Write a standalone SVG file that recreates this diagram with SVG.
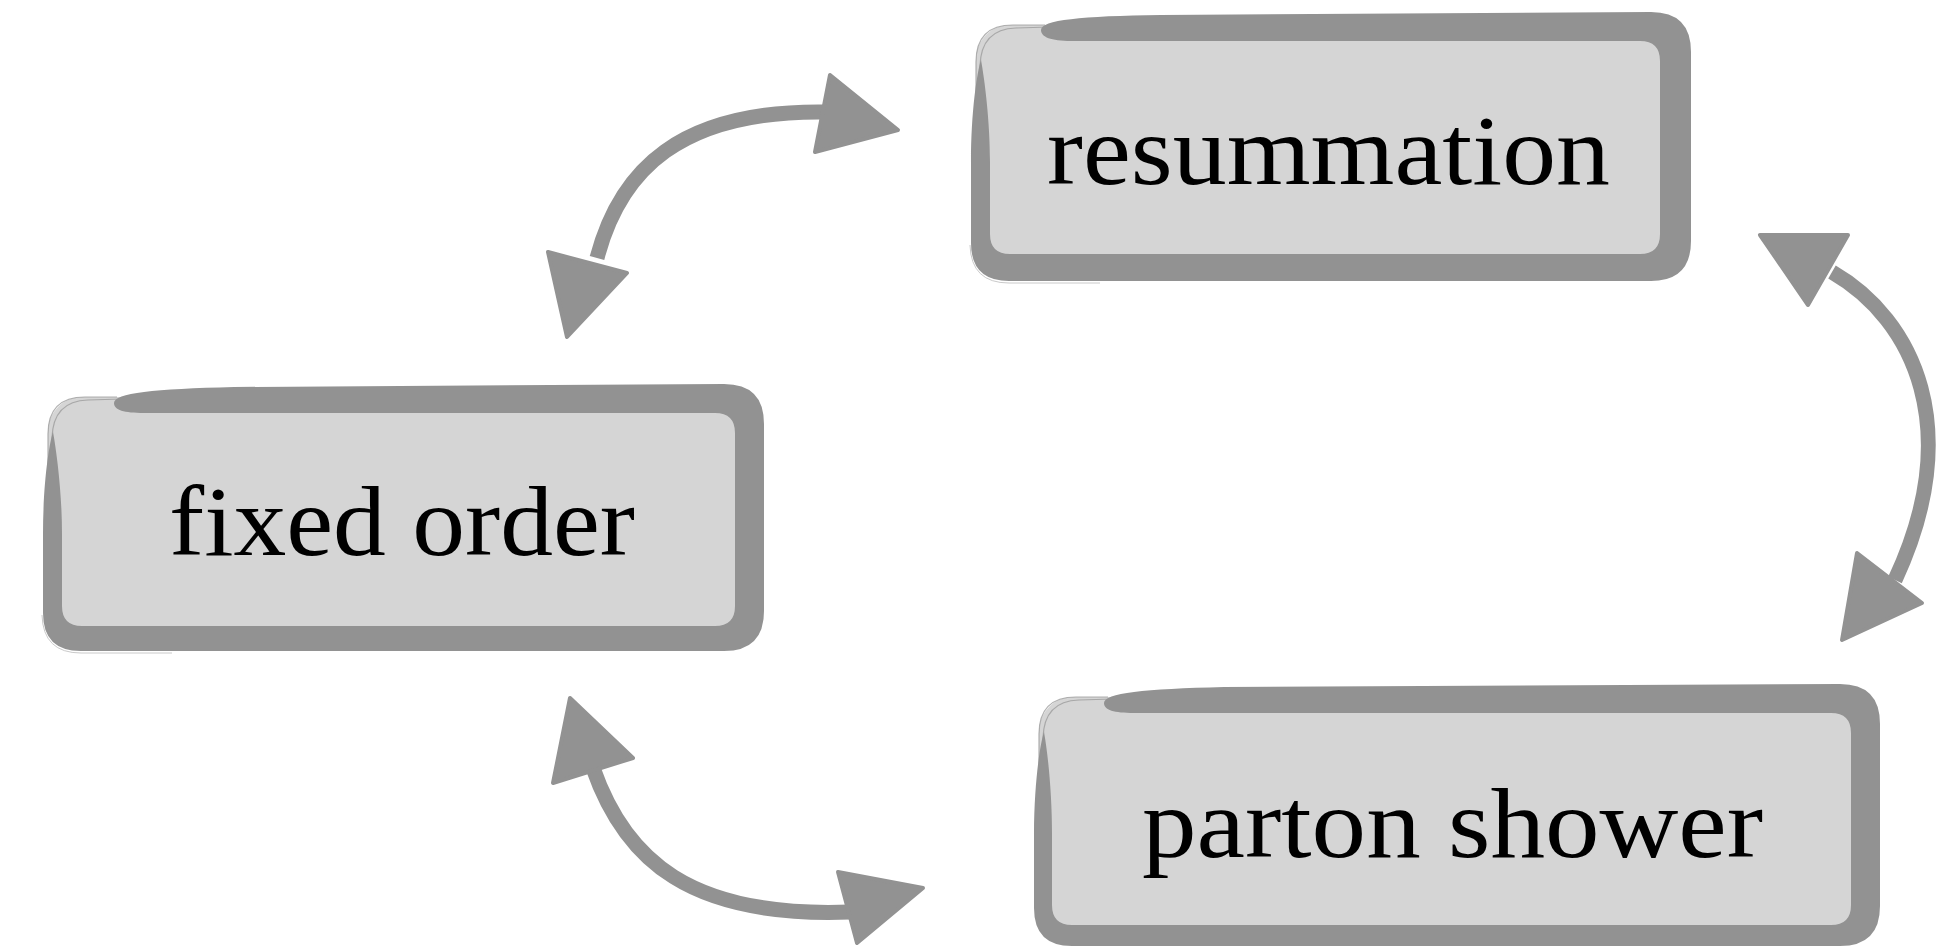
<svg xmlns="http://www.w3.org/2000/svg" width="1947" height="947" viewBox="0 0 1947 947">
<style>
.fill{fill:#d5d5d5}
.frame{fill:#929292}
.sk{fill:none;stroke:#9c9c9c;stroke-width:1.2;opacity:0.8}
.sk2{fill:none;stroke:#cacaca;stroke-width:1}
.label{font-family:"Liberation Serif","DejaVu Serif",serif;font-size:100px;fill:#000}
.shaft{fill:none;stroke:#929292;stroke-width:15}
.head{fill:#929292;stroke:#929292;stroke-width:4;stroke-linejoin:round}
</style>
<rect width="1947" height="947" fill="#ffffff"/>
<g id="connectors">
  <g id="arrow-fixed-resummation">
    <path class="shaft" d="M 597 258 C 620 170 680 110 825 112"/>
    <polygon class="head" points="830,75 898,130 815,152"/>
    <polygon class="head" points="548,252 627,273 567,337"/>
  </g>
  <g id="arrow-resummation-shower">
    <path class="shaft" d="M 1832 272 C 1915 320 1965 430 1895 580"/>
    <polygon class="head" points="1760,235 1848,235 1808,305"/>
    <polygon class="head" points="1857,553 1922,603 1842,640"/>
  </g>
  <g id="arrow-fixed-shower">
    <path class="shaft" d="M 593 768 C 625 860 690 918 850 912"/>
    <polygon class="head" points="570,698 633,758 553,783"/>
    <polygon class="head" points="838,872 923,888 857,943"/>
  </g>
</g>
<g id="node-resummation">
  <rect class="fill" x="976" y="25" width="694" height="239" rx="34"/>
  <path class="sk" d="M 976 230 L 976 62 Q 976 25 1013 25 L 1045 25"/>
  <path class="sk" d="M 979 220 L 980 66 Q 981 29 1016 28 L 1050 27"/>
  <path class="frame" d="M 1041 30 C 1041 20 1081 16 1161 15 L 1651 12 Q 1691 12 1691 52 L 1691 241 Q 1691 281 1651 281 L 1009 281 Q 971 281 971 243 L 971 162 C 971 112 977 72 981 60 C 985 82 990 122 990 162 L 990 234 Q 990 254 1010 254 L 1640 254 Q 1660 254 1660 234 L 1660 61 Q 1660 41 1640 41 L 1071 41 C 1051 41 1041 37 1041 30 Z"/>
  <path class="sk2" d="M 970 245 Q 971 283 1009 283 L 1100 283"/>
  <text class="label" x="1047" y="184" textLength="563" lengthAdjust="spacingAndGlyphs">resummation</text>
</g>
<g id="node-fixed-order">
  <rect class="fill" x="48" y="397" width="697" height="239" rx="34"/>
  <path class="sk" d="M 48 602 L 48 434 Q 48 397 85 397 L 117 397"/>
  <path class="sk" d="M 51 592 L 52 438 Q 53 401 88 400 L 122 399"/>
  <path class="frame" d="M 114 403 C 114 393 154 389 234 387 L 724 384 Q 764 384 764 424 L 764 611 Q 764 651 724 651 L 81 651 Q 43 651 43 613 L 43 534 C 43 484 49 444 53 432 C 57 454 62 494 62 534 L 62 606 Q 62 626 82 626 L 715 626 Q 735 626 735 606 L 735 433 Q 735 413 715 413 L 144 413 C 124 413 114 410 114 403 Z"/>
  <path class="sk2" d="M 42 615 Q 43 653 81 653 L 172 653"/>
  <text class="label" x="169" y="555" textLength="466" lengthAdjust="spacingAndGlyphs">fixed order</text>
</g>
<g id="node-parton-shower">
  <rect class="fill" x="1039" y="697" width="822" height="238" rx="34"/>
  <path class="sk" d="M 1039 902 L 1039 734 Q 1039 697 1076 697 L 1108 697"/>
  <path class="sk" d="M 1042 892 L 1043 738 Q 1044 701 1079 700 L 1113 699"/>
  <path class="frame" d="M 1104 703 C 1104 693 1144 689 1224 687 L 1840 684 Q 1880 684 1880 724 L 1880 906 Q 1880 946 1840 946 L 1072 946 Q 1034 946 1034 908 L 1034 834 C 1034 784 1040 744 1044 732 C 1048 754 1052 794 1052 834 L 1052 905 Q 1052 925 1072 925 L 1831 925 Q 1851 925 1851 905 L 1851 733 Q 1851 713 1831 713 L 1134 713 C 1114 713 1104 710 1104 703 Z"/>
  <text class="label" x="1142" y="857" textLength="621" lengthAdjust="spacingAndGlyphs">parton shower</text>
</g>
</svg>
